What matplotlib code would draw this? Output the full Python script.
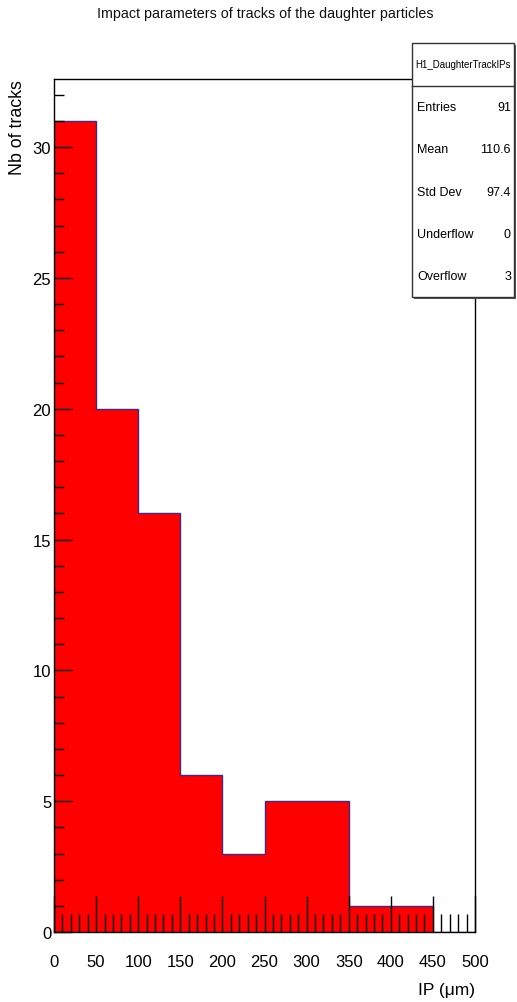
import matplotlib
matplotlib.use("Agg")
import matplotlib.pyplot as plt
from matplotlib.ticker import MultipleLocator
import numpy as np

bin_edges = [0, 50, 100, 150, 200, 250, 300, 350, 400, 450, 500]
counts = [31, 20, 16, 6, 3, 5, 5, 1, 1, 0]
title = "Impact parameters of tracks of the daughter particles"
hist_name = "H1_DaughterTrackIPs"
stat_labels = ["Entries", "Mean", "Std Dev", "Underflow", "Overflow"]
stat_values = ["91", "110.6", "97.4", "0", "3"]

plt.rcParams['font.family'] = ['Liberation Sans', 'DejaVu Sans']

W, H = 517, 1003
fig = plt.figure(figsize=(W/100, H/100), dpi=100)
ax = fig.add_axes([54/W, 1-933/H, (475-54)/W, (933-80)/H])

ax.stairs(counts, bin_edges, fill=True, facecolor='#ff0000', edgecolor='none', zorder=1)
ax.stairs(counts, bin_edges, fill=False, edgecolor='#3a2a8a', linewidth=1.0, zorder=2)

ax.set_xlim(0, 500)
ax.set_ylim(0, 32.6)
ax.xaxis.set_major_locator(MultipleLocator(50))
ax.xaxis.set_minor_locator(MultipleLocator(10))
ax.yaxis.set_major_locator(MultipleLocator(5))
ax.yaxis.set_minor_locator(MultipleLocator(1))
ax.tick_params(axis='x', which='major', direction='in', length=26, width=1, labelsize=12, pad=16, top=False)
ax.tick_params(axis='x', which='minor', direction='in', length=13, width=1, top=False)
ax.tick_params(axis='y', which='major', direction='in', length=13, width=1, labelsize=12, pad=2, right=False)
ax.tick_params(axis='y', which='minor', direction='in', length=7, width=1, right=False)
for sp in ax.spines.values():
    sp.set_linewidth(1.0)
    sp.set_zorder(3)
ax.set_axisbelow(False)

fig.text(265/W, 1-14/H, title, ha='center', va='center', fontsize=10.3, color='#111111')
fig.text(18/W, 1-80/H, "Nb of tracks", rotation=90, ha='center', va='top', fontsize=12.8)
fig.text(475/W, 1-991/H, "IP (\u03bcm)", ha='right', va='center', fontsize=12.5)

# stats box
bx0, bx1, by0, by1, hy = 412, 514, 44, 298, 87
shadow = plt.Rectangle(((bx0+2)/W, 1-(by1+2)/H), (bx1-bx0)/W, (by1-by0)/H, transform=fig.transFigure,
                       facecolor='#555555', edgecolor='none', zorder=9)
fig.add_artist(shadow)
box = plt.Rectangle((bx0/W, 1-by1/H), (bx1-bx0)/W, (by1-by0)/H, transform=fig.transFigure,
                    facecolor='white', edgecolor='#333333', linewidth=1.0, zorder=10)
fig.add_artist(box)
fig.add_artist(plt.Line2D([bx0/W, bx1/W], [1-hy/H, 1-hy/H], transform=fig.transFigure,
                          color='#333333', linewidth=1.0, zorder=11))
fig.text((bx0+bx1)/2/W, 1-(by0+hy)/2/H, hist_name, ha='center', va='center', fontsize=7.0, zorder=12)
n = len(stat_labels)
row_h = (by1-hy)/n
for i, (lab, val) in enumerate(zip(stat_labels, stat_values)):
    yc = hy + row_h*(i+0.5)
    fig.text((bx0+5)/W, 1-yc/H, lab, ha='left', va='center', fontsize=9, zorder=12)
    fig.text((bx1-3)/W, 1-yc/H, val, ha='right', va='center', fontsize=9, zorder=12)

fig.savefig("out.png", dpi=100)
